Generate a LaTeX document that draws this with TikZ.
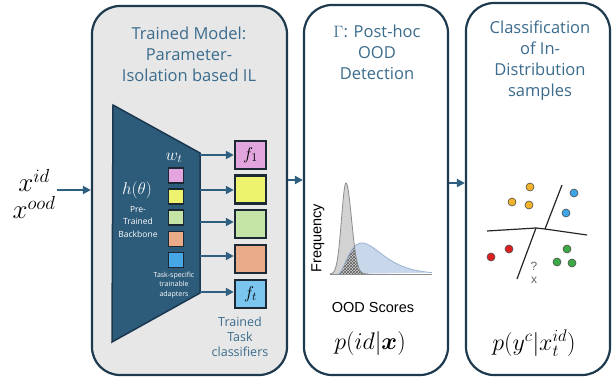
\RequirePackage{fix-cm}
\documentclass[tikz,border=0pt]{standalone}
\usepackage{amsmath,bm}
\usepackage{fontspec}
\setmainfont{Open Sans}
\newfontfamily\arialfont{Liberation Sans}
\usetikzlibrary{arrows.meta,patterns}
\definecolor{panelline}{HTML}{1E3A4F}
\definecolor{panelgray}{HTML}{E7E7E7}
\definecolor{titleblue}{HTML}{3B6C8D}
\definecolor{trapfill}{HTML}{2D5B7A}
\definecolor{trapline}{HTML}{1B3850}
\definecolor{arrowblue}{HTML}{2E5F80}
\definecolor{boxline}{HTML}{1C2833}
\definecolor{cpink}{HTML}{E2A5DE}
\definecolor{cyellow}{HTML}{EDF36C}
\definecolor{cgreen}{HTML}{C5E5A6}
\definecolor{corange}{HTML}{E9AB88}
\definecolor{cblue}{HTML}{7BC6EE}
\definecolor{cbluedark}{HTML}{47A7E6}
\definecolor{grayfill}{HTML}{D2D2D2}
\definecolor{grayline}{HTML}{8C8C8C}
\definecolor{bluefill}{HTML}{C8D8EA}
\definecolor{blueline}{HTML}{97B2D2}
\definecolor{dorange}{HTML}{F2B32B}
\definecolor{dblue}{HTML}{3EA6E6}
\definecolor{dred}{HTML}{E01F1F}
\definecolor{dgreen}{HTML}{3CA946}
\begin{document}
\begin{tikzpicture}[x=1pt,y=-1pt,
  panel/.style={draw=panelline, line width=2.2pt, rounded corners=28pt, inner sep=0pt},
  title/.style={text=titleblue, font=\fontsize{16.5}{21}\selectfont, align=center},
  arr/.style={draw=arrowblue, line width=2pt, -{Triangle[length=8pt,width=8pt]}},
  clsbox/.style={draw=boxline, line width=2.4pt, minimum width=31pt, minimum height=28pt, inner sep=0pt, font=\fontsize{17}{18}\selectfont},
  adapter/.style={draw=boxline, line width=1.8pt, minimum size=15pt, inner sep=0pt},
  dot/.style={circle, draw=black!70, line width=0.6pt, minimum size=8pt, inner sep=0pt},
  wlabel/.style={text=white, align=center},
  sep/.style={draw=black!85, line width=1.2pt}
]
\useasboundingbox (0,0) rectangle (612,377);

% panels
\node[panel, fill=panelgray, minimum width=195pt, minimum height=369pt] (model) at (189.5,190.5) {};
\node[panel, fill=white, minimum width=144pt, minimum height=370pt] (ood) at (376,190) {};
\node[panel, fill=white, minimum width=144pt, minimum height=372pt] (cls) at (538,189) {};

% titles
\node[title] (t1) at (189,54) {Trained Model:\\Parameter-\\Isolation based IL};
\node[title] (t2) at (377,52) {$\Gamma$: Post-hoc\\OOD\\Detection};
\node[title] (t3) at (540,61) {Classification\\of In-\\Distribution\\samples};

% input
\node[font=\fontsize{27}{27}\selectfont, align=center, inner sep=1pt] (xin) at (34,194) {$x^{id}$\\$x^{ood}$};
\coordinate (inS) at (0,190);
\draw[arr] (xin.east |- inS) -- (model.west |- inS);

% panel arrows
\coordinate (a1) at (0,180);
\coordinate (a2) at (0,183);
\draw[arr] (model.east |- a1) -- (ood.west |- a1);
\draw[arr] (ood.east |- a2) -- (cls.west |- a2);

% backbone trapezoid
\draw[fill=trapfill, draw=trapline, line width=1.5pt] (113,105) -- (200,153) -- (200,293) -- (112,342) -- cycle;
\node[wlabel, font=\fontsize{17}{18}\selectfont] (wt) at (174,158) {$w_t$};
\node[wlabel, font=\fontsize{17}{18}\selectfont] (h) at (137,190) {$h(\theta)$};
\node[wlabel, font=\fontsize{8.5}{12.5}\selectfont] (pre) at (138,222) {Pre-\\Trained\\Backbone};
\node[wlabel, font=\fontsize{7}{9.7}\selectfont] (tsa) at (174,285) {Task-specific\\trainable\\adapters};

% adapters
\node[adapter, fill=cpink] (ad1) at (176,175.5) {};
\node[adapter, fill=cyellow] (ad2) at (176,196.5) {};
\node[adapter, fill=cgreen] (ad3) at (176,217.5) {};
\node[adapter, fill=corange] (ad4) at (176,239) {};
\node[adapter, fill=cbluedark] (ad5) at (176,260) {};

% classifiers
\node[clsbox, fill=cpink] (c1) at (250.5,155) {$f_1$};
\node[clsbox, fill=cyellow] (c2) at (250.5,189.5) {};
\node[clsbox, fill=cgreen] (c3) at (250.5,224) {};
\node[clsbox, fill=corange] (c4) at (250.5,259) {};
\node[clsbox, fill=cblue] (c5) at (250.5,294) {$f_t$};

\coordinate (r1) at (200,155);
\coordinate (r2) at (200,190);
\coordinate (r3) at (200,222);
\coordinate (r4) at (200,256);
\coordinate (r5) at (200,292);
\foreach \i in {1,...,5} { \draw[arr] (r\i) -- (c\i.west |- r\i); }

\node[text=titleblue, font=\fontsize{12.5}{15}\selectfont, align=center] (ttc) at (240,337) {Trained\\Task\\classifiers};

% density plot
\fill[bluefill] (338,274) -- plot[domain=338:432,samples=80] (\x,{274-31*((\x-338)/24)*((\x-338)/24)*exp(2-2*(\x-338)/24)}) -- cycle;
\fill[grayfill] (330,274) -- plot[domain=330:368,samples=80] (\x,{274-91*exp(-((\x-346)*(\x-346))/(2*((\x<346) ? 20.25 : 30.25)))}) -- cycle;
\fill[pattern=crosshatch, pattern color=black!65] (338,274) -- plot[domain=338:368,samples=60] (\x,{274-min(91*exp(-((\x-346)*(\x-346))/(2*((\x<346) ? 20.25 : 30.25))),31*((\x-338)/24)*((\x-338)/24)*exp(2-2*(\x-338)/24))}) -- cycle;
\draw[blueline, line width=0.8pt] plot[domain=338:432,samples=80] (\x,{274-31*((\x-338)/24)*((\x-338)/24)*exp(2-2*(\x-338)/24)});
\draw[grayline, line width=0.8pt] plot[domain=330:368,samples=80] (\x,{274-91*exp(-((\x-346)*(\x-346))/(2*((\x<346) ? 20.25 : 30.25)))});
\draw[grayline, line width=0.8pt] (330,274) -- (432,274);

\node[font=\arialfont\fontsize{14.5}{16}\selectfont, rotate=90] (freq) at (318,238) {Frequency};
\node[font=\arialfont\fontsize{14.5}{16}\selectfont] (scores) at (373,308) {OOD Scores};
\node[font=\fontsize{24}{26}\selectfont] (pid) at (370,343) {$p(id|\bm{x})$};
\node[font=\fontsize{24}{26}\selectfont] (py) at (534,343) {$p(y^c|x_t^{id})$};

% scatter
\coordinate (h0) at (487,231);
\coordinate (j1) at (536,228);
\coordinate (j2) at (545,229);
\coordinate (h3) at (587,235);
\coordinate (l1) at (517,279);
\coordinate (l2) at (562,185);
\draw[sep] (h0) -- (j1) -- (j2) -- (h3);
\draw[sep] (j1) -- (l1);
\draw[sep] (j2) -- (l2);

\node[dot, fill=dorange] (o1) at (530,187) {};
\node[dot, fill=dorange] (o2) at (512,202) {};
\node[dot, fill=dorange] (o3) at (529,205) {};
\node[dot, fill=dblue] (b1) at (574,193) {};
\node[dot, fill=dblue] (b2) at (566,213) {};
\node[dot, fill=dred] (rd1) at (491,257) {};
\node[dot, fill=dred] (rd2) at (509,249) {};
\node[dot, fill=dgreen] (g1) at (567,249) {};
\node[dot, fill=dgreen] (g2) at (557,262) {};
\node[dot, fill=dgreen] (g3) at (572,263) {};
\node[text=black!60, font=\arialfont\fontsize{12}{12}\selectfont] (q) at (534,266) {?};
\node[text=black!60, font=\arialfont\fontsize{12}{12}\selectfont] (qx) at (534,280) {x};
\end{tikzpicture}
\end{document}
